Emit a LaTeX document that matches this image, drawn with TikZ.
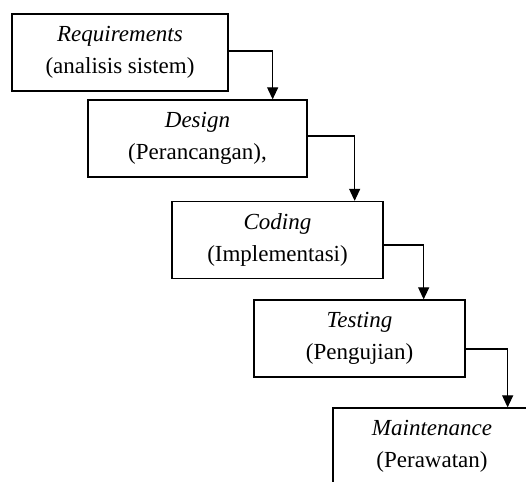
\documentclass[tikz,border=0pt]{standalone}
\usepackage{fontspec}
\setmainfont{Liberation Serif}
\usetikzlibrary{arrows.meta}

\begin{document}
\begin{tikzpicture}
[x=1pt,y=-1pt,
  boxDecorate/.style={shape=rectangle,draw,line width=1.3pt,align=center,
    inner sep=0pt,minimum height=77pt,font=\fontsize{23}{32}\selectfont},
  lineDecorate/.style={-{Triangle[width=11pt,length=12pt]},line width=1.2pt}]
\useasboundingbox (0,0) rectangle (526,481);
\clip (0,0) rectangle (526,481);
%% steps of the waterfall
\foreach \nodename/\x/\y/\w/\first/\second in {
  req/120/52.5/216/Requirements/{(analisis sistem)},
  des/197.5/138.5/219/Design/{(Perancangan),},
  cod/277.5/240/211/Coding/{(Implementasi)},
  tes/359.5/338.5/211/Testing/{(Pengujian)},
  mnt/432/446.5/198/Maintenance/{(Perawatan)}}
{
  \node (\nodename) at (\x,\y) [boxDecorate,minimum width=\w pt] {\textit{\first}\\\second};
}
%% arrows between steps
\foreach \startnode/\endnode/\dx/\dy in {
  req/des/44/1.5, des/cod/47/2.5, cod/tes/40/-5, tes/mnt/42/-10.5}
{
  \draw[lineDecorate] ([yshift=\dy pt]\startnode.east)
    -| ([xshift=\dx pt]\startnode.east |- \endnode.north);
}
\end{tikzpicture}
\end{document}
